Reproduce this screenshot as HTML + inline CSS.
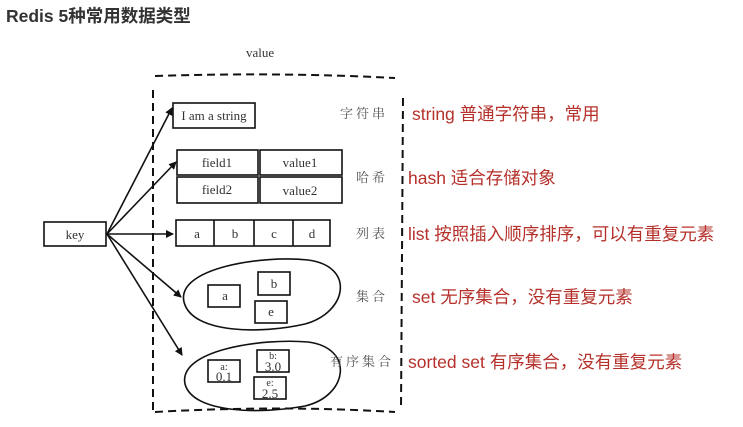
<!DOCTYPE html>
<html><head><meta charset="utf-8"><style>
body{margin:0;background:#fff;}
svg{display:block;}
.s{font-family:"Liberation Serif","Noto Serif CJK SC",serif;fill:#333;}
.c{font-family:"Noto Serif CJK SC",serif;fill:#555;font-size:13px;letter-spacing:3px;}
.r{font-family:"Liberation Sans","Noto Sans CJK SC",sans-serif;fill:#b5302a;font-size:17.5px;}
</style></head><body>
<svg width="743" height="427" viewBox="0 0 743 427" xmlns="http://www.w3.org/2000/svg">
<defs><marker id="a" markerWidth="8" markerHeight="8" refX="7" refY="4" orient="auto" markerUnits="userSpaceOnUse"><path d="M0,0 L8,4 L0,8 z" fill="#111"/></marker></defs>
<text x="6" y="22" style="font-family:'Liberation Sans','Noto Sans CJK SC',sans-serif;font-weight:bold;font-size:17.5px;fill:#333">Redis 5种常用数据类型</text>
<text x="246" y="57" class="s" font-size="13">value</text>
<g stroke="#111" stroke-width="2" fill="none" stroke-dasharray="8,5">
<path d="M155,76 Q280,72 395,78"/>
<path d="M153,90 L153,410"/>
<path d="M403,98 L401,410"/>
<path d="M155,412 Q280,405 395,412"/>
</g>
<g stroke="#111" stroke-width="1.6" fill="none">
<rect x="44" y="222" width="62" height="24"/>
<rect x="173" y="103" width="82" height="25"/>
<rect x="177" y="150" width="81" height="25"/><rect x="260" y="150" width="82" height="25"/>
<rect x="177" y="177" width="81" height="26"/><rect x="260" y="177" width="82" height="26"/>
<rect x="176" y="220" width="154" height="26"/>
<path d="M214,220V246M254,220V246M293,220V246"/>
<path d="M184,302 C176,268 262,255 308,260 C355,266 348,312 305,324 C262,334 192,334 184,302Z"/>
<rect x="208" y="285" width="32" height="22"/><rect x="258" y="272" width="32" height="23"/><rect x="255" y="301" width="32" height="22"/>
<path d="M185,384 C178,350 262,338 308,342 C355,348 348,396 305,406 C262,414 193,414 185,384Z"/>
<rect x="208" y="360" width="32" height="22"/><rect x="257" y="350" width="32" height="22"/><rect x="254" y="377" width="32" height="22"/>
</g>
<g stroke="#111" stroke-width="1.6" marker-end="url(#a)">
<line x1="107" y1="234" x2="172" y2="108"/>
<line x1="107" y1="234" x2="176" y2="162"/>
<line x1="107" y1="234" x2="173" y2="234"/>
<line x1="107" y1="234" x2="181" y2="297"/>
<line x1="107" y1="234" x2="182" y2="355"/>
</g>
<g class="s" font-size="13" text-anchor="middle">
<text x="75" y="239">key</text>
<text x="214" y="120">I am a string</text>
<text x="217" y="167">field1</text><text x="300" y="167">value1</text>
<text x="217" y="194">field2</text><text x="300" y="195">value2</text>
<text x="197" y="238">a</text><text x="235" y="238">b</text><text x="274" y="238">c</text><text x="312" y="238">d</text>
<text x="225" y="300">a</text><text x="274" y="288">b</text><text x="271" y="316">e</text>
<text x="224" y="370" font-size="10">a:</text><text x="224" y="381">0.1</text>
<text x="273" y="359" font-size="10">b:</text><text x="273" y="371">3.0</text>
<text x="270" y="386" font-size="10">e:</text><text x="270" y="398">2.5</text>
</g>
<text class="c" x="340" y="118">字符串</text>
<text class="c" x="356" y="182">哈希</text>
<text class="c" x="356" y="238">列表</text>
<text class="c" x="356" y="301">集合</text>
<text class="c" x="330" y="366">有序集合</text>
<text class="r" x="412" y="120">string 普通字符串，常用</text>
<text class="r" x="408" y="184">hash 适合存储对象</text>
<text class="r" x="408" y="240">list 按照插入顺序排序，可以有重复元素</text>
<text class="r" x="412" y="303">set 无序集合，没有重复元素</text>
<text class="r" x="408" y="368">sorted set 有序集合，没有重复元素</text>
</svg>
</body></html>
